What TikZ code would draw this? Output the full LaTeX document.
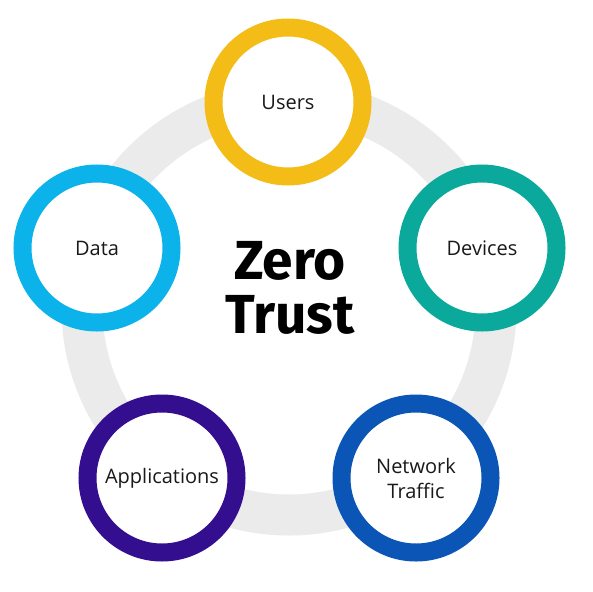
\documentclass[tikz,border=0pt]{standalone}
\usepackage{fontspec}
\setmainfont{Open Sans}
\newfontfamily\titlefont{Fira Sans}
\definecolor{ztgray}{HTML}{EBEBEB}
\definecolor{ztyellow}{HTML}{F4BC16}
\definecolor{ztteal}{HTML}{0AA99C}
\definecolor{ztsky}{HTML}{0BB3EA}
\definecolor{ztpurple}{HTML}{330E8E}
\definecolor{ztblue}{HTML}{0A55B5}
\begin{document}
\begin{tikzpicture}[x=1pt, y=-1pt,
          font=\fontsize{20}{25}\selectfont,
          pillar/.style={circle, draw, line width=18pt, fill=white, minimum size=149pt,
                         inner sep=0pt, align=center, text=black!90},
          ztring/.style={draw=ztgray, line width=41pt},
          title/.style={align=center, inner sep=0pt, font=\titlefont\bfseries\fontsize{55}{54}\selectfont}]
        \useasboundingbox (0,0) rectangle (593,591);
        \fill[white] (0,0) rectangle (593,591);
        \coordinate (hub) at (289,308);
        \draw[ztring] (hub) circle (207pt);
        \node[title] (zt) at (290,288) {Zero\\Trust};
        \node[pillar, draw=ztyellow] (users) at (288,102) {Users};
        \node[pillar, draw=ztteal] (devices) at (482,248) {Devices};
        \node[pillar, draw=ztsky] (data) at (97,248) {Data};
        \node[pillar, draw=ztpurple] (apps) at (162,478) {Applications};
        \node[pillar, draw=ztblue] (net) at (416,478) {Network\\Traffic};
      \end{tikzpicture}
\end{document}
